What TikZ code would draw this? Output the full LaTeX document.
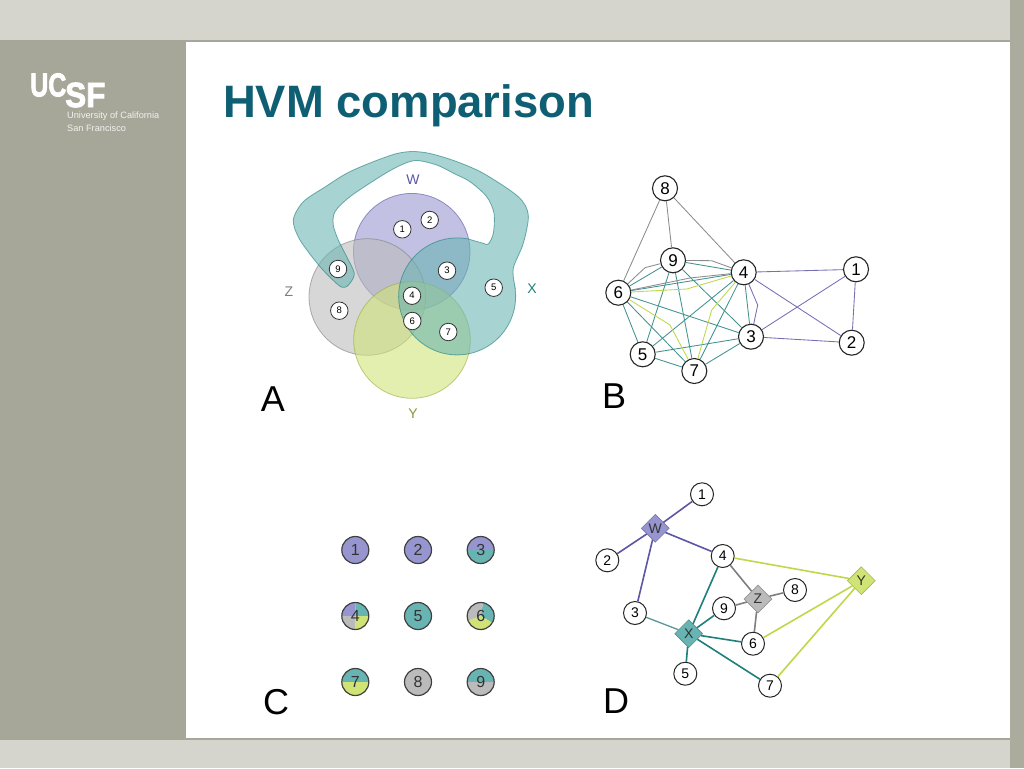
\documentclass[tikz,border=0pt]{standalone}
\usepackage{fontspec}
\setmainfont{Liberation Sans}
\newfontfamily\logofont[BoldFeatures={FakeBold=2.5}]{Liberation Sans}
\usetikzlibrary{shapes.geometric}
\definecolor{bandgrey}{HTML}{D5D5CE}
\definecolor{panelgrey}{HTML}{A7A799}
\definecolor{titleteal}{HTML}{0F5F74}
\definecolor{wcol}{HTML}{9795CF}
\definecolor{xcol}{HTML}{68B4B3}
\definecolor{ycol}{HTML}{D0E475}
\definecolor{zcol}{HTML}{BBBBBB}
\definecolor{wline}{HTML}{5C56A6}
\definecolor{xline}{HTML}{1F7F7C}
\definecolor{yline}{HTML}{BFD84A}
\definecolor{zline}{HTML}{7F7F7F}
\tikzset{
  vennset/.style={line width=0.8pt,fill opacity=0.58,draw opacity=0.6},
  vennitem/.style={circle,draw=black!80,fill=white,line width=0.8pt,inner sep=0pt,minimum size=17.5pt,font=\fontsize{9.5}{9.5}\selectfont},
  bnode/.style={circle,draw=black!85,fill=white,line width=1.1pt,inner sep=0pt,minimum size=25pt,font=\fontsize{17}{17}\selectfont},
  bedge/.style={line width=0.85pt},
  cnode/.style={circle,draw=black!75,line width=1.2pt,inner sep=0pt,minimum size=27pt,font=\fontsize{16}{16}\selectfont,text=black!80},
  dnode/.style={circle,draw=black!85,fill=white,line width=1pt,inner sep=0pt,minimum size=23pt,font=\fontsize{14}{14}\selectfont},
  dhub/.style={diamond,inner sep=0pt,minimum size=28pt,line width=0.6pt,text=black!80,font=\fontsize{14}{14}\selectfont},
  dedge/.style={line width=1.6pt},
  panelletter/.style={font=\fontsize{36}{36}\selectfont},
  setname/.style={font=\fontsize{14}{14}\selectfont}
}
\begin{document}
\begin{tikzpicture}[x=1pt,y=-1pt]
\useasboundingbox (0,0) rectangle (1024,768);
% slide
\fill[bandgrey] (0,0) rectangle (1024,768);
\fill[panelgrey] (0,40) rectangle (1024,740);
\fill[panelgrey!90!bandgrey] (1010,0) rectangle (1024,768);
\fill[white] (186,42) rectangle (1010,738);
\node[anchor=west,text=titleteal,font=\fontsize{45.4}{45.4}\selectfont\bfseries,inner sep=0pt] (title) at (223,106) {HVM comparison};
% logo
\node[anchor=west,text=white,font=\logofont\bfseries\fontsize{33}{33}\selectfont,inner sep=0pt] (logouc) at (30,85) {\scalebox{0.76}[1]{UC}};
\node[anchor=west,text=white,font=\logofont\bfseries\fontsize{35}{35}\selectfont,inner sep=0pt] (logosf) at (65,95) {\scalebox{0.9}[1]{SF}};
\node[anchor=west,text=white!85!panelgrey,font=\fontsize{9.2}{9.2}\selectfont,inner sep=0pt] (logoa) at (67,116.5) {University of California};
\node[anchor=west,text=white!85!panelgrey,font=\fontsize{9.2}{9.2}\selectfont,inner sep=0pt] (logob) at (67,128) {San Francisco};
% A
\fill[wcol,draw=wline,vennset] (411.7,251.7) circle (58.3pt);
\fill[zcol,draw=zline,vennset] (367.3,297) circle (58.3pt);
\fill[ycol,draw=yline!80!black,vennset] (412,340) circle (58.3pt);
\fill[xcol,draw=xline,vennset] plot[smooth] coordinates {(515,286.7) (513.3,268.3) (523.3,243.3) (528.3,215) (518.3,196.7) (483.3,173.3) (455,161) (430,153.5) (412,151.5) (395,154) (370,163) (346.7,173.3) (325,187) (303.3,201.7) (293.3,220) (300,240) (320,266.7) (338.3,285) (345,287.3) (350,283.3) (354.3,273.3) (346.7,256.7) (338.3,240) (333.3,225) (335,211.7) (350,196.7) (380,176.7) (400,165.5) (416,160.5) (436.7,165) (455,174) (470,181.7) (486.7,196.7) (494,213.3) (493.3,233.3) (488.3,244) (483.3,243.3) (468.3,239)} arc[start angle=79,end angle=370,radius=58.5pt] -- cycle;
\foreach \name/\px/\py in {1/402.3/229.3,2/429.7/220,3/447/270.7,4/412/295.7,5/493.7/287.7,6/412.3/321,7/448.3/332,8/339.3/310.7,9/338/269}
  \node[vennitem] (a\name) at (\px,\py) {\name};
\node[setname,text=wline] (lw) at (413,180) {W};
\node[setname,text=xline] (lx) at (532,289) {X};
\node[setname,text=yline!70!black] (ly) at (413,414) {Y};
\node[setname,text=zline] (lz) at (289,292) {Z};
\node[panelletter] (la) at (273,399) {A};
% B
\foreach \name/\px/\py in {1/856/269.3,2/851.7/342.7,3/751/336.7,4/743.7/272.3,5/642.7/354.3,6/618.3/292.7,7/694.3/371,8/665/188.3,9/673/260.3}
  \node[bnode] (b\name) at (\px,\py) {\name};
\coordinate (bz69) at (645,267.7);
\coordinate (bz94) at (711.7,260.7);
\coordinate (bz64) at (690,278);
\coordinate (bw43) at (757.7,305);
\coordinate (by64) at (686.7,289);
\coordinate (by67) at (670,325);
\coordinate (by47) at (711.7,310);
\foreach \u/\v in {6/9,6/4,6/5,6/3,6/7,9/5,9/7,9/3,9/4,4/5,4/3,4/7,5/3,5/7,3/7}
  \draw[bedge,xline!85] (b\u) -- (b\v);
\foreach \u/\v in {8/6,8/9,8/4}
  \draw[bedge,zline!90] (b\u) -- (b\v);
\foreach \u/\v in {4/1,4/2,1/3,1/2,3/2}
  \draw[bedge,wline!85] (b\u) -- (b\v);
\draw[bedge,zline!90] (b6) -- (bz69) -- (b9);
\draw[bedge,zline!90] (b9) -- (bz94) -- (b4);
\draw[bedge,zline!90] (b6) -- (bz64) -- (b4);
\draw[bedge,wline!85] (b4) -- (bw43) -- (b3);
\draw[bedge,yline] (b6) -- (by64) -- (b4);
\draw[bedge,yline] (b6) -- (by67) -- (b7);
\draw[bedge,yline] (b4) -- (by47) -- (b7);
\node[panelletter] (lb) at (614,396) {B};
% C
\foreach \px/\py/\a/\b/\col in {355.3/550/0/360/wcol,418/550/0/360/wcol,480.7/550/0/180/wcol,480.7/550/180/360/xcol,
  355.3/616/90/180/wcol,355.3/616/0/90/xcol,355.3/616/-90/0/ycol,355.3/616/180/270/zcol,418/616/0/360/xcol,
  480.7/616/-30/80/xcol,480.7/616/-160/-30/ycol,480.7/616/80/200/zcol,
  355.3/682/0/180/xcol,355.3/682/180/360/ycol,418/682/0/360/zcol,480.7/682/0/180/xcol,480.7/682/180/360/zcol}
  \fill[\col] (\px,\py) -- +(\a:13.5pt) arc[start angle=\a,end angle=\b,radius=13.5pt] -- cycle;
\foreach \name/\px/\py in {1/355.3/550,2/418/550,3/480.7/550,4/355.3/616,5/418/616,6/480.7/616,7/355.3/682,8/418/682,9/480.7/682}
  \node[cnode] (c\name) at (\px,\py) {\name};
\node[panelletter] (lc) at (276,702) {C};
% D
\foreach \name/\px/\py in {1/702/494.3,2/607.3/560.3,3/635/613,4/722.7/556,5/685.3/673.7,6/753/643.7,7/770/685.7,8/795/590,9/724/608.3}
  \node[dnode] (d\name) at (\px,\py) {\name};
\node[dhub,fill=wcol,draw=wcol!80!black] (dw) at (655.3,528.3) {W};
\node[dhub,fill=xcol,draw=xcol!80!black] (dx) at (688.7,633.7) {X};
\node[dhub,fill=ycol,draw=ycol!80!black] (dy) at (861.3,580.7) {Y};
\node[dhub,fill=zcol,draw=zcol!80!black] (dz) at (758,599) {Z};
\foreach \v in {1,2,3,4}
  \draw[dedge,wline] (dw) -- (d\v);
\foreach \v in {4,5,6,7,9}
  \draw[dedge,xline] (dx) -- (d\v);
\draw[xcol!85!black,line width=1.3pt] (dx) -- (d3);
\foreach \v in {4,6,8,9}
  \draw[dedge,zline] (dz) -- (d\v);
\foreach \v in {4,6,7}
  \draw[dedge,yline] (dy) -- (d\v);
\node[panelletter] (ld) at (616,701) {D};
\end{tikzpicture}
\end{document}
